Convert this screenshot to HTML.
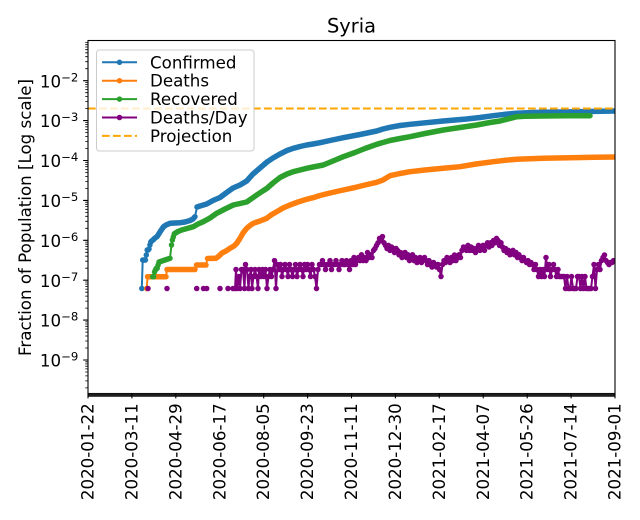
<!DOCTYPE html>
<html>
<head>
<meta charset="utf-8">
<style>
html,body{margin:0;padding:0;background:#fff;}
svg{display:block;}
text{font-family:"DejaVu Sans","Liberation Sans",sans-serif;fill:#000;}
</style>
</head>
<body>
<svg width="640" height="520" viewBox="0 0 640 520" xmlns="http://www.w3.org/2000/svg">
<defs>
  <clipPath id="plot"><rect x="88" y="40.5" width="527" height="353"/></clipPath>
  <marker id="mb" viewBox="-3 -3 6 6" markerWidth="6" markerHeight="6" markerUnits="userSpaceOnUse" refX="0" refY="0"><circle r="2.75" fill="#1f77b4"/></marker>
  <marker id="mo" viewBox="-3 -3 6 6" markerWidth="6" markerHeight="6" markerUnits="userSpaceOnUse" refX="0" refY="0"><circle r="2.75" fill="#ff7f0e"/></marker>
  <marker id="mg" viewBox="-3 -3 6 6" markerWidth="6" markerHeight="6" markerUnits="userSpaceOnUse" refX="0" refY="0"><circle r="2.75" fill="#2ca02c"/></marker>
  <marker id="mp" viewBox="-3 -3 6 6" markerWidth="6" markerHeight="6" markerUnits="userSpaceOnUse" refX="0" refY="0"><circle r="2.75" fill="#800080"/></marker>
</defs>

<rect x="0" y="0" width="640" height="520" fill="#fff"/>

<!-- Title -->
<text x="351.5" y="32.5" font-size="19.4" text-anchor="middle">Syria</text>

<g clip-path="url(#plot)">
  <!-- Confirmed (blue) -->
  <g fill="none" stroke="#1f77b4" stroke-linejoin="round" stroke-linecap="round">
    <polyline stroke-width="2" marker-start="url(#mb)" marker-mid="url(#mb)" marker-end="url(#mb)"
      points="141.8,288.5 142.7,260 143.6,260 144.5,260 145.4,260 146.3,255 147.2,250 148.1,250 149,249 149.9,245 150.8,242 151.7,241"/>
    <polyline stroke-width="5.5" points="151.7,241 153,240 155,238 157,236.7 160,232 163.3,227 166,225 170,223.3 175,223 180,222.7 185,222 190,220.5 193,219 195,216.7"/>
    <polyline stroke-width="2" points="195,216.7 197,207"/>
    <polyline stroke-width="5.5" points="197,207 200,206 206.7,204 213,200.5 220,197.5 226,193 233,188 240,185 246.7,181 253,174 260,168 267,162 273,158 280,154 287,150.5 293.3,148.3 300,146.5 306.7,145 313,144 320,142.7 330,140.5 343.3,137.7 360,134.5 376.7,131 383,129 390,127.3 400,125.5 410,124.3 425,122.8 443.3,121 455,120 466.7,119 480,117.5 493.3,115.7 505,114.3 516.7,113.3 530,112.6 543.3,112.3 560,112 576.7,111.7 595,111.4 616,111"/>
  </g>

  <!-- Deaths (orange) -->
  <g fill="none" stroke="#ff7f0e" stroke-linejoin="round" stroke-linecap="round">
    <polyline stroke-width="2" marker-start="url(#mo)" marker-end="url(#mo)" points="146.7,288.5 147.6,276.7"/>
    <polyline stroke-width="5.5" points="147.6,276.7 166,276.7"/>
    <polyline stroke-width="2" points="166,276.7 167,269.5"/>
    <polyline stroke-width="5.5" points="167,269.5 195,269.5"/>
    <polyline stroke-width="2" points="195,269.5 196.5,265"/>
    <polyline stroke-width="5.5" points="196.5,265 206,265"/>
    <polyline stroke-width="2" points="206,265 207.5,258.5"/>
    <polyline stroke-width="5.5" points="207.5,258.5 216,258.3 219,256 222,253 226,251 230,248.3 234,246 236.7,243.3 240,238.3 243,233 246.7,228.3 250,225.5 253.3,223.3 260,221 266.7,218.3 271,215 276.7,211.7 283,208 290,205 298,202 306.7,199.3 313,197.7 320,195.5 330,193 343.3,190 355,187.5 365,185 376.7,182.3 383,180 390,175.7 400,173.5 410,171.7 425,170 443.3,168.3 460,166.7 476,164 493.3,161.7 505,160.3 516.7,159.3 530,158.7 543.3,158.3 570,157.8 595,157.3 616,157"/>
  </g>

  <!-- Recovered (green) -->
  <g fill="none" stroke="#2ca02c" stroke-linejoin="round" stroke-linecap="round">
    <polyline stroke-width="2" marker-start="url(#mg)" marker-mid="url(#mg)" marker-end="url(#mg)"
      points="152.7,276.7 153.6,276.7 154.5,272 155.4,270 156.3,268.3 157.2,268.3 158.1,265 159,262 160,261.7"/>
    <polyline stroke-width="5.5" points="160,261.7 165,260 170,258.3"/>
    <polyline stroke-width="2" marker-mid="url(#mg)" marker-end="url(#mg)" points="170,258.3 171.5,245 172.4,240 173.3,237 174.2,234 175,233.3"/>
    <polyline stroke-width="5.5" points="175,233.3 178,231.5 181.7,230 187,228.5 193.3,226.7 198,224 203.3,221.7 210,218 216.7,213.3 225,209 233.3,205 240,203.5 246.7,202 251,199 256.7,195 262,191.5 266.7,188.5 273,183 280,177.5 287,174 293.3,171.7 300,170 306.7,168.3 313,167 323.3,165 333,161 343.3,156.7 355,152.5 365,148.5 376.7,144.3 390,140.5 400,138.5 410,136.7 425,133.5 443.3,130 460,127.5 476.7,125 490,122.5 500,121 508,119 516.7,116.7 525,116.3 543.3,116 565,115.8 590,115.7"/>
  </g>

  <!-- Deaths/Day (purple) -->
  <g fill="#800080">
    <circle cx="148" cy="288.5" r="2.75"/>
    <circle cx="167" cy="288.5" r="2.75"/>
    <circle cx="196.7" cy="288.5" r="2.75"/>
    <circle cx="203.5" cy="288.5" r="2.75"/>
    <circle cx="206.7" cy="288.5" r="2.75"/>
    <circle cx="220" cy="288.5" r="2.75"/>
    <circle cx="228" cy="288.5" r="2.75"/>
    <circle cx="233" cy="288.5" r="2.75"/>
  </g>
  <polyline fill="none" stroke="#800080" stroke-width="2" stroke-linejoin="round"
    marker-start="url(#mp)" marker-mid="url(#mp)" marker-end="url(#mp)"
    points="235,288.5 236,269.5 237,288.5 239,276.5 240,288.5 241.5,269.5 243,269.5 244.5,288.5 245.5,264.5 247,269.5 248.5,288.5 249.5,276.5 251,269.5 252,288.5 253.5,276.5 255,269.5 256.5,276.5 258,288.5 259,269.5 261,276.5 262.5,269.5 264,276.5 265.5,269.5 267,288.5 268.5,276.5 270,269.5 271.5,276.5 273,269.5 274.5,260.6 276,288.5 277.5,264.5 279,269.5 280.5,264.5
    282,276.5 283.5,269.5 285,264.5 286.5,269.5 288,276.5 289.5,264.5 291,269.5 292.5,276.5 294,269.5 295.5,264.5 297,276.5 298.5,269.5 300,264.5 301.5,269.5 303,276.5 304.5,264.5 306,269.5 307.5,264.5 309,269.5 310.5,276.5 312,264.5 313.5,269.5 315,276.5 316.5,288.5 318,269.5 319.5,264.5
    321,264.5 322.5,260.6 324,264.5 325.5,269.5 327,264.5 328.5,264.5 330,260.6 331.5,269.5 333,264.5 334.5,264.5 336,260.6 337.5,264.5 339,269.5 340.5,264.5 342,260.6 343.5,264.5 345,264.5 346.5,260.6 348,264.5 349.5,269.5 351,260.6 352.5,264.5 354,257.5 355.5,264.5 357,260.6 358.5,257.5 360,260.6 361.5,254.8 363,260.6 364.5,257.5 366,260.6 367.5,252.5 369,257.5 370.5,254.8 372,257.5
    373.5,250.4 375,248.5 376.5,245.4 378,242.8 379.5,238.4 381,240.5 382.5,236.6 384,242.8 385.5,245.4 387,248.5 388.5,245.4 390,250.4 391.5,247 393,248.5 394.5,252.5 396,248.5 397.5,250.4 399,254.8 400.5,252.5 402,257.5 403.5,254.8 405,252.5 406.5,257.5 408,254.8 409.5,260.6 411,257.5 412.5,254.8 414,260.6 415.5,257.5 417,262.5 418.5,260.6 420,257.5 421.5,262.5 423,260.6 424.5,257.5
    426,260.6 427.5,264.5 429,260.6 430.5,264.5 432,267 433.5,262.5 435,264.5 436.5,267 438,264.5 439.5,269.5 441,276.5 442.5,264.5 444,260.6 445.5,262.5 447,257.5 448.5,260.6 450,262.5 451.5,257.5 453,260.6 454.5,255 456,260.6 457.5,257.5 459,254.8 460.5,257.5 462,250.4 463.5,247 465,248.5 466.5,250.4 468,245.4 469.5,250.4
    471,247 472.5,250.4 474,248.5 475.5,252.5 477,248.5 478.5,245.4 480,250.4 481.5,247 483,245.4 484.5,250.4 486,245.4 487.5,242.8 489,247 490.5,242.8 492,245.4 493.5,240.5 495,242.8 496.5,238.4 498,240.5 499.5,245.4 501,242.8 502.5,247 504,250.4 505.5,248.5 507,252.5 508.5,250.4 510,254.8 511.5,252.5 513,250.4 514.5,254.8 516,252.5 517.5,257.5 519,254.8
    520.5,257.5 522,260.6 523.5,257.5 525,260.6 526.5,262.5 528,260.6 529.5,264.5 531,262.5 532.5,264.5 534,269.5 535.5,264.5 537,269.5 538.5,276.5 540,269.5 541.5,276.5 543,269.5 544.5,276.5 546,257.5 547.5,269.5 549,264.5 550.5,276.5 552,269.5 553.5,264.5 555,269.5 556.5,276.5 558,269.5 559.5,276.5 561,276.5 562.5,276.5 564,276.5 565.5,288.5 567,276.5 568.5,288.5 570,288.5 571.5,276.5 573,288.5 574.5,288.5 576,288.5 577.5,276.5 579,276.5 580.5,288.5 582,276.5 583.5,288.5 585,276.5 586.5,288.5 588,288.5 589.5,288.5 591,288.5 592.5,276.5 594,264.5 595.5,288.5 597,269.5 598.5,264.5 600,269.5 601.5,260.6 603,257.5 604.5,255 606,260.6 607.5,262.5 609,264.5 610.5,262.5 612,262.5 613.5,260.6"/>

  <!-- Projection -->
  <line x1="88" y1="108.5" x2="615" y2="108.5" stroke="#ffa500" stroke-width="2" stroke-dasharray="7.7 3.3"/>
</g>

<!-- Axes spines -->
<rect x="88" y="40.5" width="527" height="353" fill="none" stroke="#000" stroke-width="1.1"/>

<!-- X minor tick band -->
<rect x="88" y="393.5" width="527" height="3.3" fill="#1e1e1e"/>

<!-- Y major ticks -->
<path d="M83.1 80.7H88M83.1 120.6H88M83.1 160.5H88M83.1 200.4H88M83.1 240.3H88M83.1 280.2H88M83.1 320.1H88M83.1 360H88" stroke="#000" stroke-width="1.1"/>
<!-- Y minor ticks -->
<path stroke="#000" stroke-width="0.8" d="
M85.2 387.9H88M85.2 380.9H88M85.2 375.9H88M85.2 372H88M85.2 368.9H88M85.2 366.2H88M85.2 363.9H88M85.2 361.8H88
M85.2 348H88M85.2 341H88M85.2 336H88M85.2 332.1H88M85.2 329H88M85.2 326.3H88M85.2 324H88M85.2 321.9H88
M85.2 308.1H88M85.2 301.1H88M85.2 296.1H88M85.2 292.2H88M85.2 289.1H88M85.2 286.4H88M85.2 284.1H88M85.2 282H88
M85.2 268.2H88M85.2 261.2H88M85.2 256.2H88M85.2 252.3H88M85.2 249.2H88M85.2 246.5H88M85.2 244.2H88M85.2 242.1H88
M85.2 228.3H88M85.2 221.3H88M85.2 216.3H88M85.2 212.4H88M85.2 209.3H88M85.2 206.6H88M85.2 204.3H88M85.2 202.2H88
M85.2 188.4H88M85.2 181.4H88M85.2 176.4H88M85.2 172.5H88M85.2 169.4H88M85.2 166.7H88M85.2 164.4H88M85.2 162.3H88
M85.2 148.5H88M85.2 141.5H88M85.2 136.5H88M85.2 132.6H88M85.2 129.5H88M85.2 126.8H88M85.2 124.5H88M85.2 122.4H88
M85.2 108.6H88M85.2 101.6H88M85.2 96.6H88M85.2 92.7H88M85.2 89.6H88M85.2 86.9H88M85.2 84.6H88M85.2 82.5H88
M85.2 68.7H88M85.2 61.7H88M85.2 56.7H88M85.2 52.8H88M85.2 49.7H88M85.2 47H88M85.2 44.7H88M85.2 42.6H88"/>

<!-- Y tick labels -->
<g font-size="16.67" text-anchor="end">
  <text x="78.3" y="87.3">10<tspan font-size="11.7" dy="-6">−2</tspan></text>
  <text x="78.3" y="127.2">10<tspan font-size="11.7" dy="-6">−3</tspan></text>
  <text x="78.3" y="167.1">10<tspan font-size="11.7" dy="-6">−4</tspan></text>
  <text x="78.3" y="207">10<tspan font-size="11.7" dy="-6">−5</tspan></text>
  <text x="78.3" y="246.9">10<tspan font-size="11.7" dy="-6">−6</tspan></text>
  <text x="78.3" y="286.8">10<tspan font-size="11.7" dy="-6">−7</tspan></text>
  <text x="78.3" y="326.7">10<tspan font-size="11.7" dy="-6">−8</tspan></text>
  <text x="78.3" y="366.6">10<tspan font-size="11.7" dy="-6">−9</tspan></text>
</g>

<!-- Y label -->
<text transform="translate(31,217.5) rotate(-90)" font-size="16.67" text-anchor="middle">Fraction of Population [Log scale]</text>

<!-- X major ticks -->
<path stroke="#000" stroke-width="1.1" d="M88 393.5V398.4M131.9 393.5V398.4M175.8 393.5V398.4M219.75 393.5V398.4M263.7 393.5V398.4M307.6 393.5V398.4M351.5 393.5V398.4M395.4 393.5V398.4M439.3 393.5V398.4M483.25 393.5V398.4M527.2 393.5V398.4M571.1 393.5V398.4M615 393.5V398.4"/>

<!-- X tick labels -->
<g font-size="16.67" text-anchor="end">
  <text transform="translate(93.5,403.3) rotate(-90)">2020-01-22</text>
  <text transform="translate(137.4,403.3) rotate(-90)">2020-03-11</text>
  <text transform="translate(181.3,403.3) rotate(-90)">2020-04-29</text>
  <text transform="translate(225.25,403.3) rotate(-90)">2020-06-17</text>
  <text transform="translate(269.2,403.3) rotate(-90)">2020-08-05</text>
  <text transform="translate(313.1,403.3) rotate(-90)">2020-09-23</text>
  <text transform="translate(357,403.3) rotate(-90)">2020-11-11</text>
  <text transform="translate(400.9,403.3) rotate(-90)">2020-12-30</text>
  <text transform="translate(444.8,403.3) rotate(-90)">2021-02-17</text>
  <text transform="translate(488.75,403.3) rotate(-90)">2021-04-07</text>
  <text transform="translate(532.7,403.3) rotate(-90)">2021-05-26</text>
  <text transform="translate(576.6,403.3) rotate(-90)">2021-07-14</text>
  <text transform="translate(620.5,403.3) rotate(-90)">2021-09-01</text>
</g>

<!-- Legend -->
<rect x="96.5" y="50" width="157.5" height="101" rx="3" ry="3" fill="#fff" fill-opacity="0.8" stroke="#cccccc" stroke-width="1"/>
<g stroke-width="2" fill="none">
  <line x1="102" y1="62.3" x2="137" y2="62.3" stroke="#1f77b4"/>
  <line x1="102" y1="80.7" x2="137" y2="80.7" stroke="#ff7f0e"/>
  <line x1="102" y1="99.1" x2="137" y2="99.1" stroke="#2ca02c"/>
  <line x1="102" y1="117.5" x2="137" y2="117.5" stroke="#800080"/>
  <line x1="102" y1="135.9" x2="137" y2="135.9" stroke="#ffa500" stroke-dasharray="7.7 3.3"/>
</g>
<circle cx="119.5" cy="62.3" r="2.75" fill="#1f77b4"/>
<circle cx="119.5" cy="80.7" r="2.75" fill="#ff7f0e"/>
<circle cx="119.5" cy="99.1" r="2.75" fill="#2ca02c"/>
<circle cx="119.5" cy="117.5" r="2.75" fill="#800080"/>
<g font-size="16.67">
  <text x="150" y="68.3">Confirmed</text>
  <text x="150" y="86.7">Deaths</text>
  <text x="150" y="105.1">Recovered</text>
  <text x="150" y="123.5">Deaths/Day</text>
  <text x="150" y="141.9">Projection</text>
</g>
</svg>
</body>
</html>
